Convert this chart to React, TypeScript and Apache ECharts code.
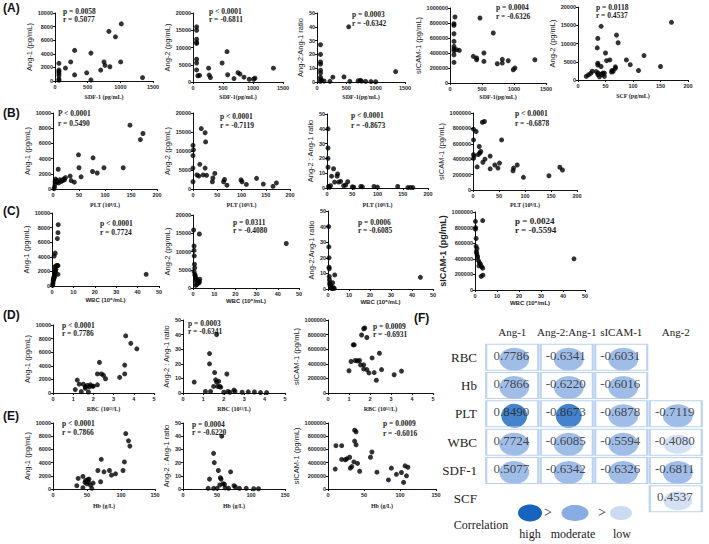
import React, { useEffect, useRef } from "react";
import * as echarts from "echarts";

const serif = '"Liberation Serif", "Times New Roman", serif';
const sans = '"Liberation Sans", Arial, sans-serif';

// ---- scatter data [x, y] ----
const a1Points = [[60,2600],[60,1600],[60,1400],[60,1100],[60,800],[60,300],[60,100],[160,1900],[240,2800],[300,4500],[300,900],[485,1200],[550,4100],[550,150],[700,1600],[750,2800],[765,2300],[825,7300],[840,2100],[925,6500],[1015,8400],[1005,2800],[1340,500]];
const a2Points = [[60,16000],[60,15000],[60,12400],[60,11500],[60,11200],[60,6600],[60,5500],[60,3500],[80,1800],[110,1900],[270,2000],[290,1300],[260,4000],[485,5500],[567,8800],[578,2100],[683,1000],[750,2700],[783,2300],[850,1400],[938,800],[1033,1100],[1010,800],[1340,4000]];
const a3Points = [[60,27],[60,20],[60,14.5],[60,13],[60,8.5],[60,6.5],[60,3.5],[60,2],[60,0.5],[80,1.2],[120,0.7],[220,0.5],[270,3.5],[460,3.7],[540,40],[560,0.5],[700,0.8],[740,1.2],[760,0.6],[830,0.4],[920,0.3],[1000,0.2],[1340,7.5]];
const a4Points = [[78,880000],[62,790000],[62,770000],[62,657000],[62,555000],[62,488000],[62,455000],[62,430000],[62,377000],[62,275000],[104,444000],[145,435000],[364,355000],[416,310000],[416,333000],[468,867000],[676,667000],[530,400000],[530,288000],[739,257000],[817,266000],[817,315000],[910,297000],[988,177000],[1014,200000],[1326,310000]];
const a5Points = [[15,1000],[19,1400],[23,1800],[26,2400],[33,2300],[37,1900],[36,4100],[36,4600],[35,8800],[36,11400],[42,14700],[36,1500],[39,900],[43,1500],[42,3700],[45,1900],[48,1900],[48,1000],[50,7400],[52,5300],[58,5500],[62,2600],[61,2200],[64,2400],[68,3200],[68,3600],[70,12300],[73,10200],[88,5500],[95,4200],[110,2600],[120,6700],[150,3700],[170,15800]];
const b1Points = [[2,50],[3,300],[4,700],[4,1000],[5,1300],[7,1100],[8,900],[10,2600],[11,800],[13,1200],[16,1000],[18,1100],[20,1300],[22,1200],[24,1500],[33,1700],[35,1100],[41,900],[49,4500],[50,2800],[54,1600],[77,4100],[76,2300],[85,2100],[98,2800],[135,2800],[148,8400],[168,6500],[173,7300]];
const b2Points = [[0,11500],[0,8800],[0,5500],[0,1900],[1,10300],[8,3700],[12,3400],[14,6500],[17,15900],[25,14800],[26,12400],[21,3700],[25,5500],[28,3600],[40,1900],[41,2900],[45,4100],[63,1900],[65,2500],[70,1000],[99,2400],[101,1900],[110,1200],[131,2800],[145,1300],[165,700],[172,1600]];
const b3Points = [[2,40],[2,27],[2,20],[2,14],[3,1],[5,0.5],[7,1.5],[9,8],[13,13],[15,4],[20,8],[21,9.5],[23,4],[27,4.5],[33,1.5],[37,2],[41,4.2],[50,0.8],[53,0.5],[67,1],[70,0.8],[93,1],[100,0.6],[140,1],[160,0.3],[165,0.4],[170,0.3]];
const b4Points = [[1,790000],[1,650000],[1,460000],[1,410000],[2,440000],[6,760000],[8,300000],[10,460000],[12,565000],[13,480000],[15,500000],[18,880000],[22,890000],[19,360000],[23,400000],[33,440000],[33,275000],[42,325000],[48,285000],[51,350000],[55,650000],[77,250000],[78,285000],[85,325000],[97,165000],[146,185000],[167,295000],[172,260000]];
const c1Points = [[0.3,100],[0.4,300],[0.5,500],[0.6,800],[0.7,900],[0.8,1000],[0.9,1200],[1,1100],[1.1,1300],[1.2,1500],[1.3,1900],[1.4,1600],[1.5,2000],[1.6,2100],[1.8,2300],[1.2,2600],[2.0,2800],[2.5,2800],[2.8,2800],[1,4100],[1.5,4500],[2.8,1600],[2.5,6500],[2.8,7300],[2.9,8400],[44,1600]];
const c2Points = [[0.3,15900],[3,14800],[0.5,11500],[0.5,10300],[0.6,8800],[0.7,6500],[0.8,5500],[0.5,4500],[0.9,3700],[1,3400],[1.2,2900],[1.5,2500],[2,2000],[2.5,1900],[3,1700],[2.2,1300],[1.8,1000],[1.3,700],[2.8,1400],[3.2,2400],[1.1,1900],[44,12200]];
const c3Points = [[0.3,40],[0.4,27],[0.5,20],[0.5,14],[0.6,13],[0.6,8],[0.7,6],[0.8,4],[0.9,3],[1,2],[1.2,1.5],[1.5,1],[1.8,0.5],[2,0.3],[2.5,0.8],[3,0.4],[3.2,9],[2.2,4],[1.3,2.5],[44,7.5]];
const c4Points = [[0.2,880000],[0.3,800000],[0.2,780000],[3.5,890000],[0.5,660000],[0.5,560000],[0.6,490000],[0.8,470000],[1,440000],[1.2,420000],[1.5,380000],[2,350000],[2.5,330000],[3,300000],[3.5,280000],[1.8,310000],[2.8,175000],[3.6,190000],[0.9,530000],[45,400000]];
const d1Points = [[1.1,500],[1.2,1900],[1.3,1300],[1.4,200],[1.5,1300],[1.6,900],[1.6,700],[1.7,1100],[1.75,150],[1.8,900],[1.85,1200],[1.95,1000],[2.0,1000],[2.2,1200],[2.2,2800],[2.3,4500],[2.4,2800],[2.5,2600],[2.6,2100],[3.3,2300],[3.55,2800],[3.55,4100],[3.6,8400],[3.85,7300],[4.15,6500]];
const d2Points = [[0.55,7.5],[1.1,1],[1.3,27],[1.3,20],[1.35,1],[1.5,4.5],[1.55,14],[1.65,40],[1.6,9],[1.65,7.5],[1.75,8],[1.7,4.5],[1.8,4.5],[1.85,4],[2.0,0.5],[2.15,13],[2.2,1],[2.3,0.5],[2.5,2],[2.55,1],[2.9,0.5],[3.2,0.8],[3.5,0.7],[3.8,0.3],[4.1,0.3]];
const d3Points = [[1.0,305000],[1.1,432000],[1.2,660000],[1.25,660000],[1.3,445000],[1.4,440000],[1.5,445000],[1.6,795000],[1.7,880000],[1.75,890000],[1.85,760000],[1.55,385000],[1.7,385000],[1.7,330000],[1.85,320000],[1.95,275000],[2.1,480000],[2.2,280000],[2.3,175000],[2.45,545000],[2.55,320000],[3.15,250000],[3.5,300000]];
const e1Points = [[35,500],[37,1600],[44,1900],[44,200],[47,1000],[48,1300],[50,800],[51,1400],[52,1100],[53,1500],[55,600],[57,100],[59,900],[66,2800],[70,1100],[71,4500],[75,2600],[83,2800],[86,2100],[92,2300],[103,2800],[105,4100],[107,8400],[111,7300],[113,6500]];
const e2Points = [[37,0.5],[39,7.5],[45,27],[46,20],[45,0.5],[50,0.5],[52,14],[55,8.5],[56,7.5],[54,3],[57,40],[59,4],[61,3.5],[62,0.8],[67,0.5],[70,13],[75,2.5],[77,1.5],[83,0.5],[93,0.5],[104,0.2],[111,0.2]];
const e3Points = [[10,302000],[11,656000],[19,656000],[19,448000],[24,443000],[26,457000],[30,481000],[31,316000],[33,340000],[36,410000],[37,726000],[39,670000],[37,891000],[39,868000],[41,387000],[44,269000],[59,481000],[61,561000],[68,255000],[84,137000],[88,316000],[95,222000],[102,250000],[107,350000],[111,330000],[109,200000],[105,100000]];

// ---- correlation table ----
const tableRows = ["RBC", "Hb", "PLT", "WBC", "SDF-1", "SCF"];
const tableCols = ["Ang-1", "Ang-2:Ang-1", "sICAM-1", "Ang-2"];
const rbcR = [0.7786, -0.6341, -0.6031, null];
const hbR = [0.7866, -0.6220, -0.6016, null];
const pltR = [0.8490, -0.8673, -0.6878, -0.7119];
const wbcR = [0.7724, -0.6085, -0.5594, -0.4080];
const sdfR = [0.5077, -0.6342, -0.6326, -0.6811];
const scfR = [null, null, null, 0.4537];
const tableValues = [rbcR, hbR, pltR, wbcR, sdfR, scfR];

type Plot = {
  data: number[][]; box: number[]; x: number[]; y: number[];
  xName: string; yName: string; xGap: number; yGap: number;
  p: string; r: string; txt: number[]; big?: boolean; xSans?: boolean;
};

const plots: Plot[] = [
  { data: a1Points, box: [55, 13, 153, 81], x: [0, 1500, 500], y: [0, 10000, 2000], xName: "SDF-1 (pg/mL)", yName: "Ang-1 (pg/mL)", xGap: 13, yGap: 18, p: "p = 0.0058", r: "r = 0.5077", txt: [63, 11, 19] },
  { data: a2Points, box: [193, 13, 283, 82], x: [0, 1500, 500], y: [0, 20000, 5000], xName: "SDF-1(pg/mL)", yName: "Ang-2 (pg/mL)", xGap: 12, yGap: 21, p: "p < 0.0001", r: "r = -0.6811", txt: [209, 11, 19] },
  { data: a3Points, box: [317, 13, 405, 82], x: [0, 1500, 500], y: [0, 50, 10], xName: "SDF-1(pg/mL)", yName: "Ang-2:Ang-1 ratio", xGap: 12, yGap: 12, p: "p = 0.0003", r: "r = -0.6342", txt: [352, 14, 23] },
  { data: a4Points, box: [450, 8, 546, 83], x: [0, 1500, 500], y: [0, 1000000, 200000], xName: "SDF-1(pg/mL)", yName: "sICAM-1 (pg/mL)", xGap: 11, yGap: 26, p: "p = 0.0004", r: "r = -0.6326", txt: [496, 7, 16] },
  { data: a5Points, box: [578, 7, 688, 80], x: [0, 200, 50], y: [0, 20000, 5000], xName: "SCF (pg/mL)", yName: "Ang-2 (pg/mL)", xGap: 13, yGap: 20, p: "p = 0.0118", r: "r = 0.4537", txt: [596, 7, 15] },
  { data: b1Points, box: [53, 113, 157, 189], x: [0, 200, 50], y: [0, 10000, 2000], xName: "PLT (10⁹/L)", yName: "Ang-1 (pg/mL)", xGap: 13, yGap: 19, p: "P < 0.0001", r: "r = 0.5490", txt: [58, 113, 123] },
  { data: b2Points, box: [193, 113, 290, 189], x: [0, 200, 50], y: [0, 20000, 5000], xName: "PLT (10⁹/L)", yName: "Ang-2 (pg/mL)", xGap: 13, yGap: 21, p: "p < 0.0001", r: "r = -0.7119", txt: [220, 116, 125] },
  { data: b3Points, box: [327, 114, 428, 188], x: [0, 200, 50], y: [0, 50, 10], xName: "PLT (10⁹/L)", yName: "Ang-2 : Ang-1 ratio", xGap: 14, yGap: 10, p: "p < 0.0001", r: "r = -0.8673", txt: [351, 115, 125] },
  { data: b4Points, box: [473, 113, 577, 190], x: [0, 200, 50], y: [0, 1000000, 200000], xName: "PLT (10⁹/L)", yName: "sICAM-1 (pg/mL)", xGap: 12, yGap: 27, p: "p < 0.0001", r: "r = -0.6878", txt: [515, 113, 123] },
  { data: c1Points, box: [52, 213, 159, 286], x: [0, 50, 10], y: [0, 10000, 2000], xName: "WBC (10⁶/mL)", yName: "Ang-1 (pg/mL)", xGap: 11, yGap: 17, p: "p < 0.0001", r: "r = 0.7724", txt: [100, 223, 232], xSans: true },
  { data: c2Points, box: [193, 215, 299, 288], x: [0, 50, 10], y: [0, 20000, 5000], xName: "WBC (10⁶/mL)", yName: "Ang-2 (pg/mL)", xGap: 10, yGap: 19, p: "p = 0.0311", r: "r = -0.4080", txt: [233, 222, 230], xSans: true },
  { data: c3Points, box: [328, 211, 433, 289], x: [0, 50, 10], y: [0, 50, 10], xName: "WBC (10⁶/mL)", yName: "Ang-2:Ang-1 ratio", xGap: 10, yGap: 9, p: "p = 0.0006", r: "r = -0.6085", txt: [358, 222, 230], xSans: true },
  { data: c4Points, box: [475, 212, 585, 290], x: [0, 50, 10], y: [0, 1000000, 200000], xName: "WBC (10⁶/mL)", yName: "sICAM-1 (pg/mL)", xGap: 10, yGap: 26, p: "p = 0.0024", r: "r = -0.5594", txt: [515, 221, 230], big: true, xSans: true },
  { data: d1Points, box: [53, 325, 154, 393], x: [0, 5, 1], y: [0, 10000, 2000], xName: "RBC (10¹²/L)", yName: "Ang-1 (pg/mL)", xGap: 13, yGap: 18, p: "p < 0.0001", r: "r = 0.7786", txt: [62, 325, 333] },
  { data: d2Points, box: [183, 320, 285, 393], x: [0, 5, 1], y: [0, 50, 10], xName: "RBC (10¹²/L)", yName: "Ang-2 : Ang-1 ratio", xGap: 13, yGap: 10, p: "p = 0.0003", r: "r = -0.6341", txt: [188, 323, 331] },
  { data: d3Points, box: [328, 320, 433, 393], x: [0, 5, 1], y: [0, 1000000, 200000], xName: "RBC (10¹²/L)", yName: "sICAM-1 (pg/mL)", xGap: 13, yGap: 28, p: "p = 0.0009", r: "r = -0.6931", txt: [373, 326, 334] },
  { data: e1Points, box: [53, 423, 155, 489], x: [0, 150, 50], y: [0, 10000, 2000], xName: "Hb (g/L)", yName: "Ang-1 (pg/mL)", xGap: 14, yGap: 18, p: "p < 0.0001", r: "r = 0.7866", txt: [62, 423, 432] },
  { data: e2Points, box: [183, 423, 285, 489], x: [0, 150, 50], y: [0, 50, 10], xName: "Hb (g/L)", yName: "Ang-2 : Ang-1 ratio", xGap: 14, yGap: 10, p: "p = 0.0004", r: "r = -0.6220", txt: [192, 424, 432] },
  { data: e3Points, box: [328, 423, 436, 489], x: [0, 150, 50], y: [0, 1000000, 200000], xName: "Hb (g/L)", yName: "sICAM-1 (pg/mL)", xGap: 14, yGap: 24, p: "p = 0.0009", r: "r = -0.6016", txt: [383, 423, 433] },
];

const panelLabels = [["(A)", 3, 8], ["(B)", 3, 113], ["(C)", 3, 211], ["(D)", 3, 315], ["(E)", 3, 416], ["(F)", 414, 318]];

const HIGH = "#1664c0";
const MOD = "#88ade2";
const LOW = "#c9daf2";
const levelColor = (v: number) => (Math.abs(v) >= 0.8 ? HIGH : Math.abs(v) < 0.5 ? LOW : MOD);
const levelSize = (v: number) => (Math.abs(v) >= 0.8 ? [26, 24] : Math.abs(v) < 0.5 ? [29, 19] : [30, 23]);

export default function App() {
  const ref = useRef<HTMLDivElement>(null);
  useEffect(() => {
    if (!ref.current) return;
    const chart = echarts.init(ref.current, null, { renderer: "svg" });
    const grids: any[] = [];
    const xAxes: any[] = [];
    const yAxes: any[] = [];
    const series: any[] = [];
    const graphics: any[] = [];
    const axisCommon = {
      type: "value",
      splitLine: { show: false },
      axisLine: { show: true, onZero: false, lineStyle: { color: "#111", width: 1 } },
      axisTick: { show: true, length: 2, lineStyle: { color: "#111", width: 1 } },
    };
    plots.forEach((pl, i) => {
      const [l, t, r, b] = pl.box;
      grids.push({ left: l, top: t, width: r - l, height: b - t });
      xAxes.push({
        ...axisCommon, gridIndex: i, min: pl.x[0], max: pl.x[1], interval: pl.x[2],
        name: pl.xName, nameLocation: "middle", nameGap: pl.xGap,
        nameTextStyle: { fontFamily: pl.xSans ? sans : serif, fontWeight: "bold", fontSize: 6, color: "#222" },
        axisLabel: { fontSize: 5.5, margin: 3, color: "#222", fontFamily: sans, fontWeight: "bold", formatter: (v: number) => String(v) },
      });
      yAxes.push({
        ...axisCommon, gridIndex: i, min: pl.y[0], max: pl.y[1], interval: pl.y[2],
        name: pl.yName, nameLocation: "middle", nameGap: pl.yGap, nameRotate: 90,
        nameTextStyle: { fontFamily: sans, fontSize: pl.big ? 9 : 7.5, fontWeight: pl.big ? "bold" : "normal", color: "#222" },
        axisLabel: { fontSize: 5.5, margin: 2, color: "#222", fontFamily: sans, fontWeight: "bold", formatter: (v: number) => String(v) },
      });
      series.push({
        type: "scatter", xAxisIndex: i, yAxisIndex: i, data: pl.data, symbolSize: 5,
        itemStyle: { color: "#000" }, silent: true,
      });
      const fs = pl.big ? 9 : 7.5;
      graphics.push({ type: "text", x: pl.txt[0], y: pl.txt[1], style: { text: pl.p, fontFamily: serif, fontWeight: "bold", fontSize: fs, fill: "#222", verticalAlign: "middle", align: "left" } });
      graphics.push({ type: "text", x: pl.txt[0], y: pl.txt[2], style: { text: pl.r, fontFamily: serif, fontWeight: "bold", fontSize: fs, fill: "#222", verticalAlign: "middle", align: "left" } });
    });

    // correlation table grid
    const ti = plots.length;
    grids.push({ left: 485, top: 343, width: 218, height: 170 });
    xAxes.push({
      type: "category", gridIndex: ti, data: tableCols, position: "top",
      axisLine: { show: false }, axisTick: { show: false }, splitLine: { show: false },
      axisLabel: { interval: 0, fontFamily: serif, fontSize: 11, color: "#222", margin: 6 },
    });
    yAxes.push({
      type: "category", gridIndex: ti, data: tableRows, inverse: true,
      axisLine: { show: false }, axisTick: { show: false }, splitLine: { show: false },
      axisLabel: { interval: 0, fontFamily: serif, fontSize: 13, color: "#222", margin: 8 },
    });
    const cells: any[] = [];
    tableValues.forEach((row, ri) => row.forEach((v, ci) => { if (v !== null) cells.push([ci, ri, v]); }));
    series.push({
      type: "scatter", xAxisIndex: ti, yAxisIndex: ti, silent: true, z: 3,
      data: cells.map((c) => ({ value: c, symbolSize: levelSize(c[2]), itemStyle: { color: levelColor(c[2]) } })),
      symbol: "circle", symbolOffset: [2, 2],
    });
    series.push({
      type: "scatter", xAxisIndex: ti, yAxisIndex: ti, silent: true, z: 4,
      data: cells, symbol: "rect", symbolSize: [52, 26],
      itemStyle: { color: "rgba(0,0,0,0)", borderColor: "#a9c5ec", borderWidth: 1.5 },
      label: {
        show: true, position: "inside", offset: [-1, -2],
        formatter: (p: any) => Number(p.value[2]).toFixed(4),
        fontFamily: serif, fontSize: 13, color: "#222",
      },
    });

    panelLabels.forEach(([t, x, y]) => {
      graphics.push({ type: "text", x, y, style: { text: t, fontFamily: sans, fontWeight: "bold", fontSize: 12, fill: "#111", verticalAlign: "middle", align: "left" } });
    });
    // correlation legend
    graphics.push({ type: "ellipse", shape: { cx: 530, cy: 513, rx: 12, ry: 8.5 }, style: { fill: HIGH } });
    graphics.push({ type: "text", x: 548, y: 512, style: { text: ">", fontFamily: serif, fontSize: 14, fill: "#222", verticalAlign: "middle", align: "center" } });
    graphics.push({ type: "ellipse", shape: { cx: 575, cy: 513, rx: 13.5, ry: 8 }, style: { fill: MOD } });
    graphics.push({ type: "text", x: 602, y: 512, style: { text: ">", fontFamily: serif, fontSize: 14, fill: "#222", verticalAlign: "middle", align: "center" } });
    graphics.push({ type: "ellipse", shape: { cx: 621, cy: 513, rx: 11, ry: 7 }, style: { fill: LOW } });
    graphics.push({ type: "text", x: 481, y: 525, style: { text: "Correlation", fontFamily: serif, fontSize: 12, fill: "#222", verticalAlign: "middle", align: "center" } });
    graphics.push({ type: "text", x: 530, y: 534, style: { text: "high", fontFamily: serif, fontSize: 12, fill: "#222", verticalAlign: "middle", align: "center" } });
    graphics.push({ type: "text", x: 573, y: 534, style: { text: "moderate", fontFamily: serif, fontSize: 12, fill: "#222", verticalAlign: "middle", align: "center" } });
    graphics.push({ type: "text", x: 622, y: 534, style: { text: "low", fontFamily: serif, fontSize: 12, fill: "#222", verticalAlign: "middle", align: "center" } });

    chart.setOption({
      animation: false,
      backgroundColor: "#fff",
      grid: grids,
      xAxis: xAxes,
      yAxis: yAxes,
      series,
      graphic: graphics,
    });
    return () => chart.dispose();
  }, []);
  return (
    <div
      ref={ref}
      style={{ position: "fixed", left: 0, top: 0, width: 709, height: 544, background: "#fff" }}
    />
  );
}
